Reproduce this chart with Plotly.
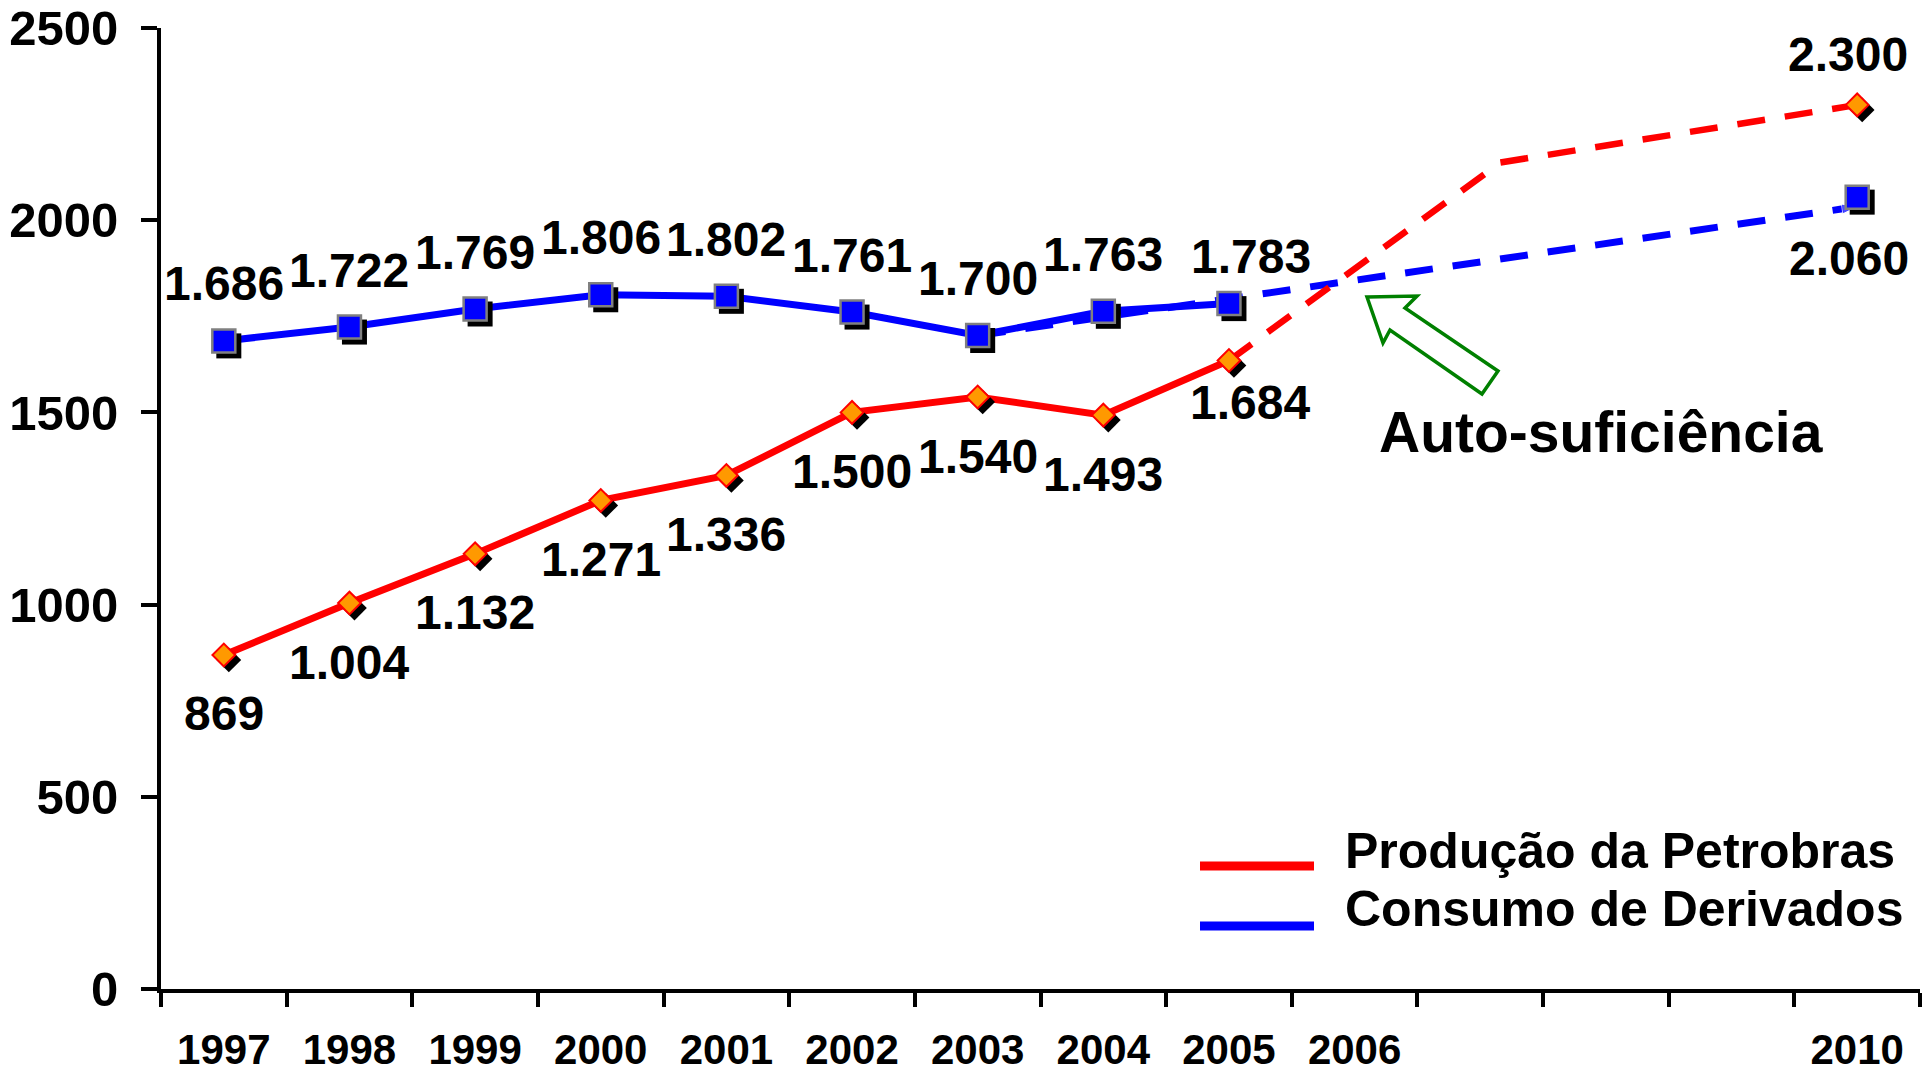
import plotly.graph_objects as go

# ---------------- data ----------------
years = [1997, 1998, 1999, 2000, 2001, 2002, 2003, 2004, 2005]
consumo = [1686, 1722, 1769, 1806, 1802, 1761, 1700, 1763, 1783]
producao = [869, 1004, 1132, 1271, 1336, 1500, 1540, 1493, 1635]
consumo_labels = ["1.686", "1.722", "1.769", "1.806", "1.802", "1.761", "1.700", "1.763", "1.783"]
producao_labels = ["869", "1.004", "1.132", "1.271", "1.336", "1.500", "1.540", "1.493", "1.684"]

meta_year = 2010
consumo_meta = 2060
producao_meta = 2300
consumo_meta_label = "2.060"
producao_meta_label = "2.300"

proj_prod_x = [2005, 2007.16, 2010]
proj_prod_y = [1635, 2150, 2300]
proj_cons_x = [2003, 2010]
proj_cons_y = [1700, 2035]

tick_years = [1997, 1998, 1999, 2000, 2001, 2002, 2003, 2004, 2005, 2006, 2010]
tick_text = [str(y) for y in tick_years]
y_ticks = [0, 500, 1000, 1500, 2000, 2500]

# ---------------- layout geometry ----------------
W, H = 1924, 1073
L, R, T, B = 161, 4, 28, 84
X0, X1 = 1996.5, 2010.5
Y0, Y1 = 0, 2500
pw = W - L - R
ph = H - T - B
ppx = pw / (X1 - X0)
ppy = ph / (Y1 - Y0)
sh_dx = 5 / ppx
sh_dy = 5 / ppy

FONT = "Liberation Sans, Arial, Helvetica, sans-serif"
RED = "#FF0000"
BLUE = "#0000FF"


def px2paper(x, y):
    return (x - L) / pw, (H - B - y) / ph


fig = go.Figure()

# projections (dashed)
fig.add_trace(go.Scatter(
    x=proj_cons_x, y=proj_cons_y, mode="lines+markers",
    line=dict(color=BLUE, width=7, dash="28px,20px"),
    marker=dict(symbol=["circle", "arrow"], size=[0, 16], color=BLUE,
                angleref="previous"),
    hoverinfo="skip", showlegend=False))
fig.add_trace(go.Scatter(
    x=proj_prod_x, y=proj_prod_y, mode="lines",
    line=dict(color=RED, width=6.5, dash="28px,20px"),
    hoverinfo="skip", showlegend=False))

# solid lines
fig.add_trace(go.Scatter(
    x=years, y=consumo, mode="lines", line=dict(color=BLUE, width=7),
    name="Consumo de Derivados", showlegend=False))
fig.add_trace(go.Scatter(
    x=years, y=producao, mode="lines", line=dict(color=RED, width=7),
    name="Produção da Petrobras", showlegend=False))

all_x = years + [meta_year]
cons_all = consumo + [consumo_meta]
prod_all = producao + [producao_meta]

# shadows (shifted overlay axes)
fig.add_trace(go.Scatter(
    x=all_x, y=cons_all, mode="markers", xaxis="x2", yaxis="y2",
    marker=dict(symbol="square", size=25, color="black", line=dict(width=0)),
    hoverinfo="skip", showlegend=False))
fig.add_trace(go.Scatter(
    x=all_x, y=prod_all, mode="markers", xaxis="x2", yaxis="y2",
    marker=dict(symbol="diamond", size=19, color="black", line=dict(width=0)),
    hoverinfo="skip", showlegend=False))

# markers
fig.add_trace(go.Scatter(
    x=all_x, y=cons_all, mode="markers", xaxis="x3", yaxis="y3",
    marker=dict(symbol="square", size=23, color=BLUE,
                line=dict(color="#808080", width=2.5)),
    showlegend=False))
fig.add_trace(go.Scatter(
    x=all_x, y=prod_all, mode="markers", xaxis="x3", yaxis="y3",
    marker=dict(symbol="diamond", size=17.5, color="#FF9900",
                line=dict(color=RED, width=2)),
    showlegend=False))

# data labels
annotations = []
lab_font = dict(family=FONT, size=48, color="black", weight="bold")
for i, (yr, v, t) in enumerate(zip(years, consumo, consumo_labels)):
    last = (i == len(years) - 1)
    annotations.append(dict(x=yr, y=v, xref="x", yref="y", text=t, showarrow=False,
                            xanchor="center", yanchor="middle",
                            yshift=47 if last else 57, xshift=22 if last else 0,
                            font=lab_font))
for i, (yr, v, t) in enumerate(zip(years, producao, producao_labels)):
    last = (i == len(years) - 1)
    annotations.append(dict(x=yr, y=v, xref="x", yref="y", text=t, showarrow=False,
                            xanchor="center", yanchor="middle",
                            yshift=-42 if last else -59, xshift=21 if last else 0,
                            font=lab_font))
annotations.append(dict(x=meta_year, y=producao_meta, xref="x", yref="y",
                        text=producao_meta_label, showarrow=False, yshift=50, xshift=-9,
                        xanchor="center", yanchor="middle", font=lab_font))
annotations.append(dict(x=meta_year, y=consumo_meta, xref="x", yref="y",
                        text=consumo_meta_label, showarrow=False, yshift=-61, xshift=-8,
                        xanchor="center", yanchor="middle", font=lab_font))

# Auto-suficiência
ax, ay = px2paper(1601, 432)
annotations.append(dict(x=ax, y=ay, xref="paper", yref="paper", text="Auto-suficiência",
                        showarrow=False, xanchor="center", yanchor="middle",
                        font=dict(family=FONT, size=57, color="black", weight="bold")))

# legend (manual)
leg_font = dict(family=FONT, size=50, color="black", weight="bold")
shapes = []
for (ly, ty, col, txt) in [(866, 851, RED, "Produção da Petrobras"),
                           (926, 909, BLUE, "Consumo de Derivados")]:
    a0x, a0y = px2paper(1200, ly)
    a1x, _ = px2paper(1314, ly)
    shapes.append(dict(type="line", xref="paper", yref="paper", x0=a0x, x1=a1x,
                       y0=a0y, y1=a0y, line=dict(color=col, width=9)))
    tx, tyy = px2paper(1343, ty)
    annotations.append(dict(x=tx, y=tyy, xref="paper", yref="paper", text=txt,
                            showarrow=False, xanchor="left", yanchor="middle",
                            font=leg_font))

# green block arrow
arrow_px = [(1367, 297), (1417, 296), (1405, 308), (1498, 371), (1482, 394),
            (1390, 330), (1383, 343)]
pts = [px2paper(x, y) for x, y in arrow_px]
path = "M " + " L ".join(f"{x:.5f},{y:.5f}" for x, y in pts) + " Z"
shapes.append(dict(type="path", xref="paper", yref="paper", path=path,
                   fillcolor="white", line=dict(color="#008000", width=3.5)))

axis_common = dict(showgrid=False, zeroline=False, automargin=False)
fig.update_layout(
    width=W, height=H,
    margin=dict(l=L, r=R, t=T, b=B, pad=0, autoexpand=False),
    paper_bgcolor="white", plot_bgcolor="white",
    showlegend=False,
    xaxis=dict(range=[X0, X1], tickmode="array", tickvals=tick_years, ticktext=tick_text,
               ticks="", showline=True, linecolor="black", linewidth=4,
               tickfont=dict(family=FONT, size=42, color="black", weight="bold"),
               ticklabelstandoff=21,
               minor=dict(tickmode="array", tickvals=[X0 + k for k in range(15)],
                          ticks="outside", ticklen=14, tickwidth=4, tickcolor="black"),
               **axis_common),
    yaxis=dict(range=[Y0, Y1], tickmode="array", tickvals=y_ticks,
               ticks="outside", ticklen=16, tickwidth=4, tickcolor="black",
               showline=True, linecolor="black", linewidth=4,
               tickfont=dict(family=FONT, size=49, color="black", weight="bold"),
               ticklabelstandoff=13,
               **axis_common),
    xaxis2=dict(range=[X0 - sh_dx, X1 - sh_dx], overlaying="x", visible=False, **axis_common),
    yaxis2=dict(range=[Y0 + sh_dy, Y1 + sh_dy], overlaying="y", visible=False, **axis_common),
    xaxis3=dict(range=[X0, X1], overlaying="x", visible=False, **axis_common),
    yaxis3=dict(range=[Y0, Y1], overlaying="y", visible=False, **axis_common),
    annotations=annotations,
    shapes=shapes,
)

fig.write_html("out.html", config={"displayModeBar": False},
               post_script="document.body.style.margin='0';document.body.style.overflow='hidden';")
